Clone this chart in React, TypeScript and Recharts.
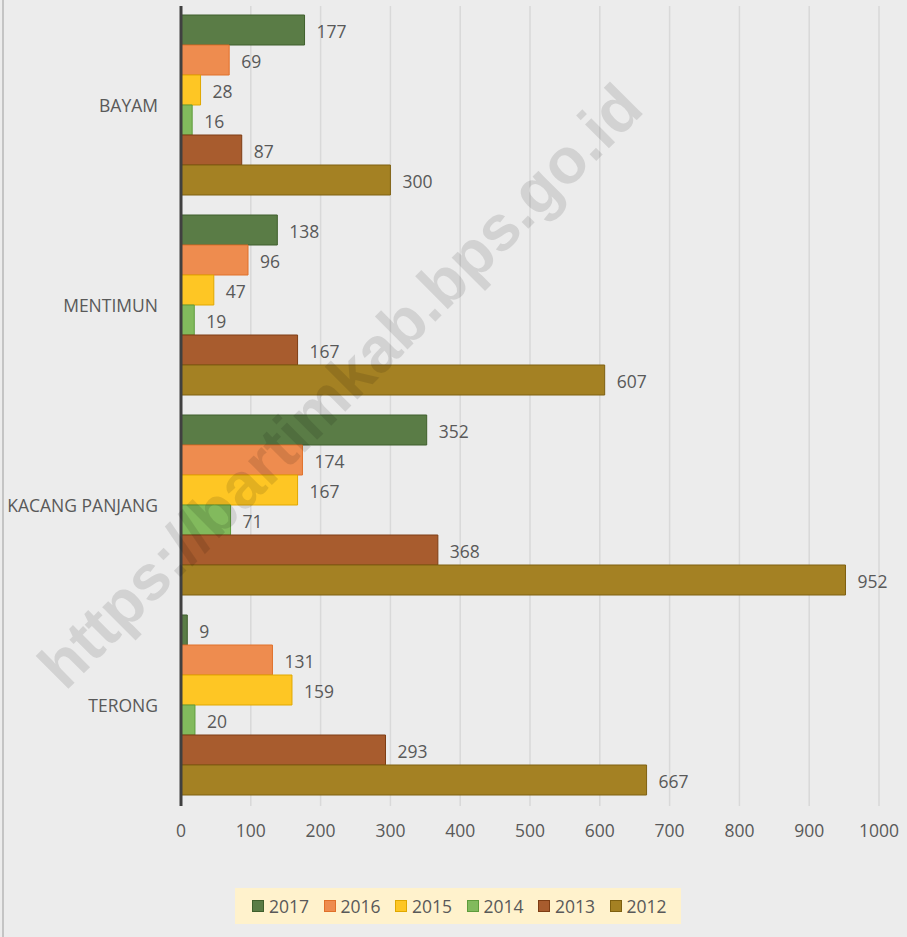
import { BarChart, Bar, XAxis, YAxis, CartesianGrid, Legend, LabelList } from 'recharts';

// ============================================================================
// Data
// ============================================================================

const categories = ['BAYAM', 'MENTIMUN', 'KACANG PANJANG', 'TERONG'];
const years = ['2017', '2016', '2015', '2014', '2013', '2012'];

const values2017 = [177, 138, 352, 9];
const values2016 = [69, 96, 174, 131];
const values2015 = [28, 47, 167, 159];
const values2014 = [16, 19, 71, 20];
const values2013 = [87, 167, 368, 293];
const values2012 = [300, 607, 952, 667];

const xTicks = [0, 100, 200, 300, 400, 500, 600, 700, 800, 900, 1000];

const seriesValues = [values2017, values2016, values2015, values2014, values2013, values2012];

const FILLS = ['#5a7c46', '#ee8c4f', '#fec624', '#82ba5d', '#a85c2e', '#a48123'];
const STROKES = ['#3f5f2c', '#e0702a', '#e0a800', '#5e9c3c', '#7e3d14', '#7e6010'];

const chartData = categories.map((name, i) => {
  const row: Record<string, string | number> = { name };
  years.forEach((y, s) => {
    row[y] = seriesValues[s][i];
  });
  return row;
});

const FONT = '"Open Sans", sans-serif';
const TEXT = '#595959';

// ============================================================================
// Legend
// ============================================================================

function LegendBox() {
  return (
    <div
      style={{
        width: 446,
        height: 36,
        background: '#fff2cc',
        display: 'flex',
        alignItems: 'center',
        paddingLeft: 17,
        boxSizing: 'border-box',
        fontFamily: FONT,
        fontSize: 17.5,
        color: TEXT,
      }}
    >
      {years.map((y, i) => (
        <div key={y} style={{ display: 'flex', alignItems: 'center', width: 72.8 }}>
          <span
            style={{
              width: 10,
              height: 10,
              background: FILLS[i],
              border: `1px solid ${STROKES[i]}`,
              marginRight: 5,
              display: 'inline-block',
            }}
          />
          <span>{y}</span>
        </div>
      ))}
    </div>
  );
}

// ============================================================================
// Chart
// ============================================================================

export default function App() {
  return (
    <div
      style={{
        position: 'absolute',
        left: 0,
        top: 0,
        width: 907,
        height: 937,
        background: '#ececec',
        fontFamily: FONT,
        overflow: 'hidden',
      }}
    >
      <div style={{ position: 'absolute', left: 2, top: 0, width: 2, height: 937, background: '#c4c4c4' }} />
      <BarChart
        width={907}
        height={937}
        data={chartData}
        layout="vertical"
        margin={{ top: 6, right: 28, bottom: 13, left: 0 }}
        barCategoryGap={9}
        barGap={0}
      >
        <CartesianGrid horizontal={false} stroke="#d9d9d9" strokeWidth={1.5} />
        <XAxis
          type="number"
          domain={[0, 1000]}
          ticks={xTicks}
          axisLine={false}
          tickLine={false}
          tickSize={0}
          tickMargin={19}
          height={82}
          tick={{ fill: TEXT, fontSize: 17.5, fontFamily: FONT }}
        />
        <YAxis
          type="category"
          dataKey="name"
          width={181}
          axisLine={{ stroke: '#404040', strokeWidth: 3 }}
          tickLine={false}
          tickSize={0}
          tickMargin={23}
          tick={{ fill: TEXT, fontSize: 17.5, fontFamily: FONT }}
        />
        <Legend
          verticalAlign="bottom"
          align="center"
          content={() => <LegendBox />}
          wrapperStyle={{ left: 235, width: 446, bottom: 13 }}
        />
        {years.map((y, i) => (
          <Bar
            key={y}
            dataKey={y}
            fill={FILLS[i]}
            stroke={STROKES[i]}
            strokeWidth={1}
            isAnimationActive={false}
          >
            <LabelList
              dataKey={y}
              position="right"
              offset={12}
              dy={2}
              fill={TEXT}
              fontSize={17.5}
              fontFamily={FONT}
            />
          </Bar>
        ))}
      </BarChart>
      <div
        style={{
          position: 'absolute',
          left: 340,
          top: 386,
          transform: 'translate(-50%, -50%) rotate(-45deg)',
          whiteSpace: 'nowrap',
          fontFamily: '"Liberation Sans", Arial, sans-serif',
          fontWeight: 'bold',
          fontSize: 64,
          color: 'rgba(0, 0, 0, 0.11)',
          pointerEvents: 'none',
        }}
      >
        https://bartimkab.bps.go.id
      </div>
    </div>
  );
}
